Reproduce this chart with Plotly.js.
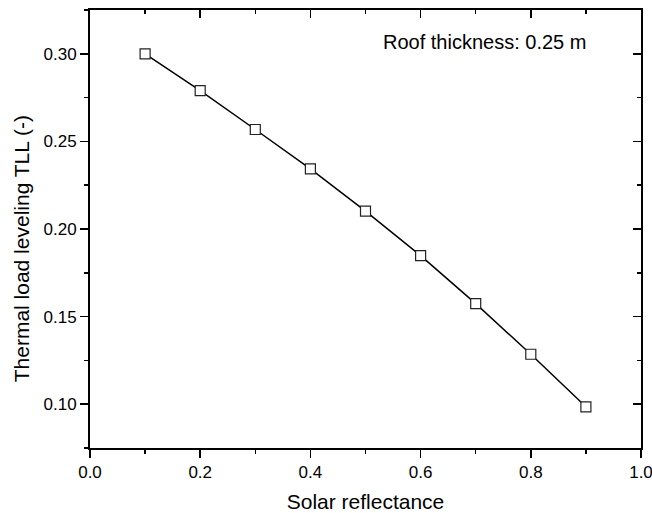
<!DOCTYPE html>
<html>
<head>
<meta charset="utf-8">
<script src="https://cdn.plot.ly/plotly-3.0.1.min.js"></script>
<style>html,body{margin:0;padding:0;background:#fff;}#chart{width:652px;height:513px;}</style>
</head>
<body>
<div id="chart"></div>
<script>
const reflectance = [0.1, 0.2, 0.3, 0.4, 0.5, 0.6, 0.7, 0.8, 0.9];
const tll = [0.300, 0.279, 0.2568, 0.2343, 0.2102, 0.1848, 0.1574, 0.1285, 0.0985];
const xTitle = "Solar reflectance";
const yTitle = "Thermal load leveling TLL (-)";
const noteText = "Roof thickness: 0.25 m";

const FONT = "Liberation Sans, Arial, sans-serif";

const traces = [
  {
    x: reflectance, y: tll, type: "scatter", mode: "lines+markers",
    line: {color: "#000", width: 1.5},
    marker: {symbol: "square", size: 10, color: "#fff", line: {width: 1.2, color: "#222"}},
    hoverinfo: "skip", showlegend: false
  },
  {x: [], y: [], xaxis: "x2", yaxis: "y2", type: "scatter", mode: "markers", showlegend: false, hoverinfo: "skip"}
];

const common = {showgrid: false, zeroline: false, showline: true, linecolor: "#000", linewidth: 2,
  tickcolor: "#000", tickwidth: 1.5, ticklen: 8};

const layout = {
  width: 652, height: 513,
  margin: {l: 90, r: 11, t: 10, b: 65},
  paper_bgcolor: "#fff", plot_bgcolor: "#fff",
  font: {family: FONT, color: "#000", size: 17},
  xaxis: Object.assign({}, common, {
    range: [0, 1], dtick: 0.2, tick0: 0, tickformat: ".1f", ticks: "outside",
    ticklabeloverflow: "allow",
    tickfont: {family: FONT, size: 17, color: "#000"},
    minor: {dtick: 0.1, ticks: "outside", ticklen: 4, tickwidth: 1.5, tickcolor: "#000"},
    title: {text: xTitle, font: {family: FONT, size: 21, color: "#000"}, standoff: 14}
  }),
  yaxis: Object.assign({}, common, {
    range: [0.075, 0.325], dtick: 0.05, tick0: 0, tickformat: ".2f", ticks: "outside",
    tickfont: {family: FONT, size: 17, color: "#000"},
    minor: {dtick: 0.025, ticks: "outside", ticklen: 4, tickwidth: 1.5, tickcolor: "#000"}
  }),
  xaxis2: Object.assign({}, common, {
    overlaying: "x", side: "top", range: [0, 1], dtick: 0.2, tick0: 0, ticks: "inside",
    showticklabels: false,
    minor: {dtick: 0.1, ticks: "inside", ticklen: 4, tickwidth: 1.5, tickcolor: "#000"}
  }),
  yaxis2: Object.assign({}, common, {
    overlaying: "y", side: "right", range: [0.075, 0.325], dtick: 0.05, tick0: 0, ticks: "inside",
    showticklabels: false,
    minor: {dtick: 0.025, ticks: "inside", ticklen: 4, tickwidth: 1.5, tickcolor: "#000"}
  }),
  annotations: [
    {text: noteText, xref: "paper", yref: "paper", x: 0.7155, y: 0.926, xanchor: "center", yanchor: "middle",
     showarrow: false, font: {family: FONT, size: 20, color: "#000"}},
    {text: yTitle, xref: "paper", yref: "paper", x: -0.125, y: 0.454, xanchor: "center", yanchor: "middle",
     textangle: -90, showarrow: false, font: {family: FONT, size: 21, color: "#000"}}
  ]
};

Plotly.newPlot("chart", traces, layout, {staticPlot: true, displayModeBar: false});
</script>
</body>
</html>
